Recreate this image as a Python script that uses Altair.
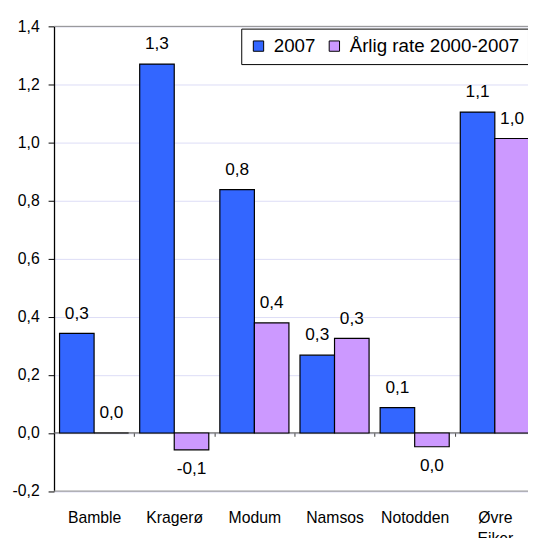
import altair as alt
import pandas as pd

categories = ["Bamble", "Kragerø", "Modum", "Namsos", "Notodden", "Øvre Eiker"]
series_names = ["2007", "Årlig rate 2000-2007"]
values_2007 = [0.343, 1.270, 0.838, 0.268, 0.087, 1.105]
values_rate = [0.0, -0.058, 0.379, 0.326, -0.0475, 1.014]
y_ticks = [-0.2, 0.0, 0.2, 0.4, 0.6, 0.8, 1.0, 1.2, 1.4]
colors = ["#3366FF", "#CC99FF"]


def fmt(v):
    return f"{round(v, 1) + 0.0:.1f}".replace(".", ",")


rows = []
for c, a, b in zip(categories, values_2007, values_rate):
    rows.append({"cat": c, "serie": series_names[0], "v": a, "lbl": fmt(a)})
    rows.append({"cat": c, "serie": series_names[1], "v": b, "lbl": fmt(b)})
df = pd.DataFrame(rows)

FONT = "Liberation Sans"
W = 481

x_scale = alt.Scale(paddingInner=0, paddingOuter=0, range=[0, {"expr": "width + 7"}])

x_enc = alt.X(
    "cat:N",
    sort=categories,
    scale=x_scale,
    axis=alt.Axis(
        title=None,
        orient="bottom",
        offset=-59.6,
        domainColor="#808080",
        domainWidth=1,
        ticks=True,
        tickBand="extent",
        tickColor="#404040",
        tickSize=4,
        labelPadding=74,
        labelFontSize=16,
        labelFont=FONT,
        labelColor="black",
        labelExpr="split(datum.label, ' ')",
        labelLineHeight=22,
        labelAngle=0,
        grid=False,
    ),
)
xoff = alt.XOffset(
    "serie:N",
    sort=series_names,
    scale=alt.Scale(paddingInner=0, paddingOuter=0.16),
)
y_scale = alt.Scale(domain=[-0.2, 1.4], nice=False, zero=False)

base = alt.Chart(df)

bars = base.mark_bar(stroke="black", strokeWidth=1.2).encode(
    x=x_enc,
    xOffset=xoff,
    y=alt.Y(
        "v:Q",
        scale=y_scale,
        axis=alt.Axis(
            title=None,
            values=y_ticks,
            labelExpr="replace(replace(format(datum.value, '.1f'), '.', ','), '−', '-')",
            labelFontSize=16,
            labelFont=FONT,
            labelColor="black",
            labelPadding=9,
            tickSize=6,
            tickColor="black",
            domainColor="black",
            domainWidth=1.3,
            gridColor="#DCDCF6",
            gridWidth=1,
        ),
    ),
    y2=alt.datum(0),
    color=alt.Color(
        "serie:N",
        sort=series_names,
        scale=alt.Scale(domain=series_names, range=colors),
        legend=alt.Legend(
            title=None,
            orient="none",
            legendX=190,
            legendY=2.3,
            direction="horizontal",
            fillColor="white",
            strokeColor="black",
            padding=8,
            labelFontSize=19,
            labelFont=FONT,
            labelColor="black",
            labelLimit=500,
            symbolType="square",
            symbolSize=110,
            symbolStrokeColor="black",
            symbolStrokeWidth=1,
            symbolOpacity=1,
            columnPadding=9,
            labelOffset=6,
        ),
    ),
)

pos_labels = base.transform_filter("datum.v >= 0").mark_text(
    dy=-20, baseline="middle", fontSize=17.5, font=FONT, color="black"
).encode(x=alt.X("cat:N", sort=categories, scale=x_scale), xOffset=alt.XOffset("serie:N", sort=series_names),
         y=alt.Y("v:Q", scale=y_scale), text="lbl:N")

neg_labels = base.transform_filter("datum.v < 0").mark_text(
    dy=20, baseline="middle", fontSize=17.5, font=FONT, color="black"
).encode(x=alt.X("cat:N", sort=categories, scale=x_scale), xOffset=alt.XOffset("serie:N", sort=series_names),
         y=alt.Y("v:Q", scale=y_scale), text="lbl:N")

zero_rule = alt.Chart(pd.DataFrame({"y": [0.0]})).mark_rule(color="#808080", strokeWidth=1).encode(
    y=alt.Y("y:Q", scale=y_scale)
)
border_rules = alt.Chart(pd.DataFrame({"y": [-0.2, 1.4]})).mark_rule(color="#8C8C8C", strokeWidth=1).encode(
    y=alt.Y("y:Q", scale=y_scale)
)

chart = alt.layer(border_rules, zero_rule, bars, pos_labels, neg_labels).properties(
    width=W,
    height=471.6,
    autosize=alt.AutoSizeParams(type="none"),
    padding={"left": 46.7, "top": 14.7, "right": 0, "bottom": 44},
).configure_view(stroke=None).configure(font=FONT)

chart.save("out.html", embed_options={"renderer": "svg", "actions": False})
